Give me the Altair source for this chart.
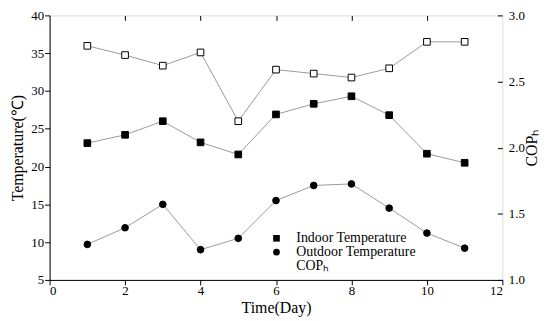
import altair as alt
import pandas as pd

days = [1, 2, 3, 4, 5, 6, 7, 8, 9, 10, 11]
indoor = [23.1, 24.2, 26.0, 23.2, 21.6, 26.9, 28.3, 29.3, 26.8, 21.7, 20.5]
outdoor = [9.7, 11.9, 15.0, 9.0, 10.5, 15.5, 17.5, 17.7, 14.5, 11.2, 9.2]
cop = [2.77, 2.70, 2.62, 2.72, 2.20, 2.59, 2.56, 2.53, 2.60, 2.80, 2.80]
series_names = ["Indoor Temperature", "Outdoor Temperature", "COPₕ"]

temp_df = pd.DataFrame({
    "day": days + days,
    "value": indoor + outdoor,
    "series": [series_names[0]] * len(days) + [series_names[1]] * len(days),
})
cop_df = pd.DataFrame({"day": days, "value": cop, "series": [series_names[2]] * len(days)})

FONT = "Liberation Serif"
x_scale = alt.Scale(domain=[0, 12], nice=False)
yl_scale = alt.Scale(domain=[5, 40], nice=False, zero=False)
yr_scale = alt.Scale(domain=[1.0, 3.0], nice=False, zero=False)
shape_scale = alt.Scale(domain=series_names, range=["square", "circle", "square"])
fill_scale = alt.Scale(domain=series_names, range=["black", "black", "white"])

bottom_axis = alt.Axis(values=[0, 2, 4, 6, 8, 10, 12], grid=False, tickSize=5,
                       domainColor="black", tickColor="black", labelFont=FONT,
                       labelFontSize=13, labelColor="black", titleFont=FONT,
                       titleFontSize=16, titleFontWeight="normal", titleColor="black",
                       titlePadding=2, labelPadding=0, labelOverlap=False)
top_axis = alt.Axis(orient="top", values=[2, 4, 6, 8, 10], labels=False, title=None,
                    domain=False, grid=False, tickSize=5, offset=-5, tickColor="black")
left_axis = alt.Axis(values=[5, 10, 15, 20, 25, 30, 35, 40], grid=False, tickSize=5,
                     domainColor="black", tickColor="black", labelFont=FONT,
                     labelFontSize=13, labelColor="black", titleFont=FONT,
                     titleFontSize=16, titleFontWeight="normal", titleColor="black",
                     titlePadding=5, labelPadding=1, labelOverlap=False, labelBound=False)
right_axis = alt.Axis(orient="right", values=[1.0, 1.5, 2.0, 2.5, 3.0], format=".1f",
                      grid=False, domain=False, tickSize=5, offset=-5, labelPadding=6,
                      tickColor="black", labelFont=FONT, labelFontSize=13,
                      labelColor="black", titleFont=FONT, titleFontSize=16,
                      titleFontWeight="normal", titleColor="black", titleAngle=270,
                      titleBaseline="top", titlePadding=-1, labelOverlap=False)

legend = alt.Legend(title=None, orient="none", legendX=222, legendY=218, labelFont=FONT,
                    labelFontSize=14, labelColor="black", symbolStrokeColor="black",
                    symbolStrokeWidth=1, symbolSize=45, rowPadding=0, labelOffset=13)

temp_line = alt.Chart(temp_df).mark_line(color="#999999", strokeWidth=1).encode(
    x=alt.X("day:Q", scale=x_scale, title="Time(Day)", axis=bottom_axis),
    y=alt.Y("value:Q", scale=yl_scale, title="Temperature(℃)", axis=left_axis),
    detail="series:N")
temp_pts = alt.Chart(temp_df).mark_point(stroke="black", strokeWidth=1, size=45, opacity=1).encode(
    x=alt.X("day:Q", scale=x_scale, title="Time(Day)", axis=bottom_axis),
    y=alt.Y("value:Q", scale=yl_scale, title="Temperature(℃)", axis=left_axis),
    shape=alt.Shape("series:N", scale=shape_scale, legend=legend),
    fill=alt.Fill("series:N", scale=fill_scale, legend=legend))
temp_layer = alt.layer(temp_line, temp_pts)

cop_line = alt.Chart(cop_df).mark_line(color="#999999", strokeWidth=1).encode(
    x=alt.X("day:Q", scale=x_scale, axis=top_axis),
    y=alt.Y("value:Q", scale=yr_scale, title="COPₕ", axis=right_axis))
cop_pts = alt.Chart(cop_df).mark_point(stroke="black", strokeWidth=1, size=45, opacity=1).encode(
    x=alt.X("day:Q", scale=x_scale, axis=top_axis),
    y=alt.Y("value:Q", scale=yr_scale, title="COPₕ", axis=right_axis),
    shape=alt.Shape("series:N", scale=shape_scale, legend=legend),
    fill=alt.Fill("series:N", scale=fill_scale, legend=legend))
cop_layer = alt.layer(cop_line, cop_pts)

chart = alt.layer(temp_layer, cop_layer).resolve_scale(y="independent").resolve_axis(
    x="independent").properties(
    width=457, height=267, autosize="none",
    padding={"left": 42, "top": 6, "right": 40, "bottom": 40},
).configure_view(stroke="black", strokeWidth=1.2).configure(background="white")

chart.save("out.html", embed_options={"renderer": "svg", "actions": False})
